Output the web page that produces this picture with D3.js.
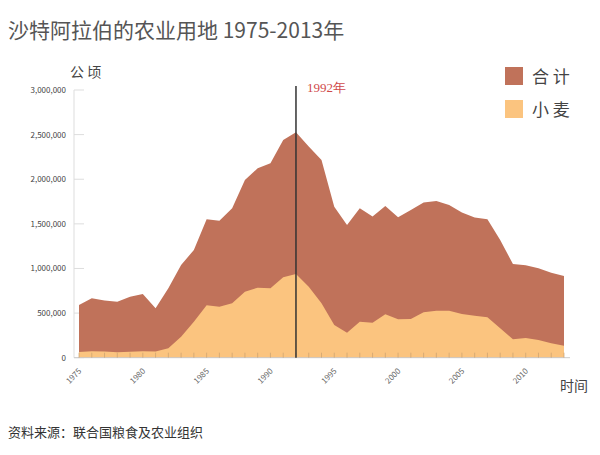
<!DOCTYPE html>
<html><head><meta charset="utf-8">
<script src="https://cdn.jsdelivr.net/npm/d3@7"></script>
<style>body{margin:0;background:#fff;font-family:"Noto Sans CJK SC","Noto Sans",sans-serif}</style>
</head><body><svg id="c" width="600" height="455"></svg>
<script>
var years = d3.range(1975, 2014);
var total = [590000,666000,640000,628000,684000,714000,553000,778000,1039000,1207000,1551000,1536000,1675000,1992000,2123000,2179000,2440000,2527000,2366000,2216000,1693000,1488000,1675000,1581000,1700000,1574000,1656000,1738000,1757000,1712000,1626000,1570000,1551000,1319000,1050000,1036000,1002000,953000,916000];
var wheat = [65000,72000,70000,62000,68000,72000,70000,105000,235000,404000,587000,572000,610000,740000,785000,778000,901000,938000,796000,610000,367000,280000,404000,392000,486000,430000,434000,509000,527000,527000,490000,471000,453000,330000,206000,221000,198000,161000,135000];
var yTicks = [0,500000,1000000,1500000,2000000,2500000,3000000];
var xTicks = [1975,1980,1985,1990,1995,2000,2005,2010];

var svg = d3.select('#c');
var x = d3.scaleLinear().domain([1975, 2013]).range([79, 564]);
var y = d3.scaleLinear().domain([0, 3000000]).range([357.7, 90]);

svg.append('text').attr('x', 8).attr('y', 38).attr('font-size', 21).attr('fill', '#555')
  .text('沙特阿拉伯的农业用地  1975-2013年');
svg.append('text').attr('x', 70).attr('y', 77).attr('font-size', 14).attr('fill', '#444').text('公 顷');
svg.append('text').attr('x', 560).attr('y', 391).attr('font-size', 14).attr('fill', '#444').text('时间');
svg.append('text').attr('x', 8).attr('y', 437).attr('font-size', 13).attr('fill', '#333').text('资料来源：联合国粮食及农业组织');

// y axis
svg.append('line').attr('x1', 74).attr('x2', 74).attr('y1', y(3000000)).attr('y2', y(0)).attr('stroke', '#ddd');
yTicks.forEach(function(t) {
  svg.append('line').attr('x1', 74).attr('x2', 84).attr('y1', y(t)).attr('y2', y(t)).attr('stroke', '#ddd');
  svg.append('text').attr('x', 66).attr('y', y(t) + 3).attr('text-anchor', 'end')
    .attr('font-size', 8).attr('fill', '#444').text(d3.format(',')(t));
});

var area = function(vals) {
  return d3.area().x(function(d, i) { return x(years[i]); }).y0(y(0)).y1(function(d) { return y(d); })(vals);
};
svg.append('path').attr('d', area(total)).attr('fill', '#c0725a');
svg.append('path').attr('d', area(wheat)).attr('fill', '#fbc47f');

// x axis
svg.append('line').attr('x1', 74).attr('x2', 570).attr('y1', y(0)).attr('y2', y(0)).attr('stroke', '#ccc');
years.forEach(function(yr) {
  svg.append('line').attr('x1', x(yr)).attr('x2', x(yr)).attr('y1', y(0)).attr('y2', y(0) - 5).attr('stroke', '#c9a070').attr('stroke-width', 0.7);
});
xTicks.forEach(function(t) {
  svg.append('text').attr('transform', 'translate(' + (x(t) + 3) + ',' + (y(0) + 14) + ') rotate(-45)')
    .attr('text-anchor', 'end').attr('font-size', 8).attr('fill', '#666').text(t);
});

// 1992 marker
svg.append('line').attr('x1', x(1992)).attr('x2', x(1992)).attr('y1', 86).attr('y2', y(0)).attr('stroke', '#333').attr('stroke-width', 1.5);
svg.append('text').attr('x', x(1992) + 11).attr('y', 92).attr('font-size', 13)
  .attr('font-family', 'Liberation Serif, serif').attr('fill', '#d04a4a').text('1992年');

// legend
[['合 计', '#c0725a'], ['小 麦', '#fbc47f']].forEach(function(d, i) {
  svg.append('rect').attr('x', 505).attr('y', 67 + i * 33).attr('width', 18).attr('height', 18).attr('fill', d[1]);
  svg.append('text').attr('x', 532).attr('y', 83 + i * 33).attr('font-size', 17).attr('fill', '#444').text(d[0]);
});
</script></body></html>
